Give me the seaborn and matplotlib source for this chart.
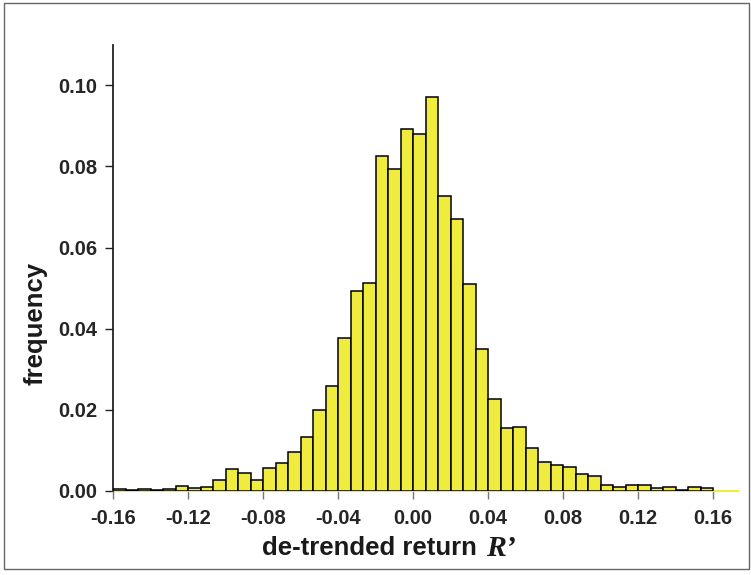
import numpy as np
import pandas as pd
import matplotlib
matplotlib.use("Agg")
import matplotlib.pyplot as plt
import seaborn as sns
from matplotlib.patches import Rectangle

# Histogram of de-trended returns: relative frequency per bin
bin_start = -0.16
bin_width = 1.0 / 150.0
frequency = [
    0.0005, 0.0002, 0.0005, 0.0002, 0.0005, 0.0013, 0.0008, 0.0009,
    0.0027, 0.0054, 0.0044, 0.0027, 0.0057, 0.0070, 0.0097, 0.0134,
    0.0200, 0.0259, 0.0378, 0.0493, 0.0512, 0.0825, 0.0793, 0.0891,
    0.0879, 0.0972, 0.0727, 0.0671, 0.0510, 0.0351, 0.0227, 0.0155,
    0.0157, 0.0107, 0.0072, 0.0063, 0.0058, 0.0042, 0.0036, 0.0015,
    0.0011, 0.0015, 0.0015, 0.0007, 0.0011, 0.0002, 0.0011, 0.0007,
]
x_ticks = [-0.16, -0.12, -0.08, -0.04, 0.00, 0.04, 0.08, 0.12, 0.16]
x_tick_labels = ["-0.16", "-0.12", "-0.08", "-0.04", "0.00", "0.04", "0.08", "0.12", "0.16"]
y_ticks = [0.00, 0.02, 0.04, 0.06, 0.08, 0.10]
y_tick_labels = ["0.00", "0.02", "0.04", "0.06", "0.08", "0.10"]

n_bins = len(frequency)
centers = bin_start + bin_width * (np.arange(n_bins) + 0.5)
df = pd.DataFrame({"ret": centers, "freq": frequency})

sns.set_theme(style="white")
plt.rcParams["font.family"] = ["Liberation Sans", "DejaVu Sans"]

bar_color = "#F0EC3E"

fig = plt.figure(figsize=(7.51, 5.75), dpi=100)
ax = fig.add_axes([113 / 751, 1 - 491 / 575, (738 - 113) / 751, (491 - 45) / 575])

sns.histplot(data=df, x="ret", weights="freq", binwidth=bin_width,
             binrange=(bin_start, bin_start + n_bins * bin_width), stat="count",
             color=bar_color, edgecolor="black", linewidth=1.1, alpha=1.0,
             ax=ax, zorder=3)

ax.set_xlim(-0.16, 0.1733)
ax.set_ylim(0, 0.1099)

ax.set_xticks(x_ticks)
ax.set_xticklabels(x_tick_labels, fontsize=14.5, fontweight="bold")
ax.set_yticks(y_ticks)
ax.set_yticklabels(y_tick_labels, fontsize=14.5, fontweight="bold")

ax.tick_params(axis="x", direction="out", length=6, width=1.0, color="#777777",
               pad=7, bottom=True)
ax.tick_params(axis="y", direction="out", length=6, width=1.0, color="#222222",
               pad=5, left=True)

for side in ("top", "right"):
    ax.spines[side].set_visible(False)
ax.spines["left"].set_color("#222222")
ax.spines["left"].set_linewidth(1.3)
ax.spines["bottom"].set_color(bar_color)
ax.spines["bottom"].set_linewidth(1.5)
ax.spines["bottom"].set_zorder(1)

ax.set_xlabel("")
ax.set_ylabel("")

# Axis titles
xlab = fig.text(262 / 751, 1 - 548 / 575, "de-trended return ", fontsize=18.5,
                fontweight="bold", ha="left", va="center", color="#1a1a1a")
fig.canvas.draw()
bb = xlab.get_window_extent()
fig.text((bb.x1 + 2) / fig.bbox.width, 1 - 548 / 575, "R\u2019", fontsize=21.5,
         fontweight="bold", fontstyle="italic", family="Liberation Serif",
         ha="left", va="center", color="#1a1a1a")

fig.text(36 / 751, 1 - 323 / 575, "frequency", fontsize=18.5, fontweight="bold",
         rotation=90, ha="center", va="center", color="#1a1a1a")

# Frame around the figure
fig.patches.append(Rectangle((4 / 751, 1 - 569 / 575), (749 - 4) / 751, (569 - 3) / 575,
                             transform=fig.transFigure, fill=False,
                             edgecolor="#666666", linewidth=1.0))

fig.savefig("out.png", dpi=100)
